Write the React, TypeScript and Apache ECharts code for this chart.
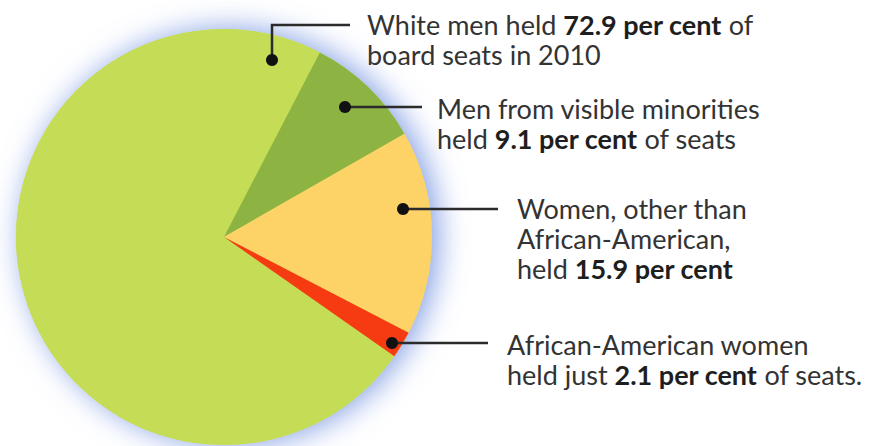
import React, { useEffect, useRef } from "react";
import * as echarts from "echarts";

const categories = [
  "White men",
  "Men from visible minorities",
  "Women, other than African-American",
  "African-American women",
];
const values = [72.9, 9.1, 15.9, 2.1];
const sliceColors = ["#c4dc56", "#8db343", "#fdd267", "#f63b12"];

const labelLines = [
  (v: number) => `White men held {b|${v} per cent} of\nboard seats in 2010`,
  (v: number) => `Men from visible minorities\nheld {b|${v} per cent} of seats`,
  (v: number) => `Women, other than\nAfrican-American,\nheld {b|${v} per cent}`,
  (v: number) => `African-American women\nheld just {b|${v} per cent} of seats.`,
];

// annotation layout: dot position, leader path, text anchor
const dotPos = [
  [272, 60],
  [345, 107],
  [403, 209],
  [392, 343],
];
const leaderPaths = [
  [[272, 60], [272, 25], [350, 25]],
  [[345, 107], [422, 107]],
  [[403, 209], [498, 209]],
  [[392, 343], [488, 343]],
];
const textPos = [
  [367, 9],
  [437, 93],
  [517, 193],
  [507, 329],
];

export default function App() {
  const ref = useRef<HTMLDivElement>(null);
  useEffect(() => {
    if (!ref.current) return;
    const chart = echarts.init(ref.current, null, { renderer: "svg" });
    const font = "Lato, 'Open Sans', sans-serif";
    const graphics: any[] = [];
    leaderPaths.forEach((p) => {
      graphics.push({
        type: "polyline",
        shape: { points: p },
        style: { stroke: "#2b2b2b", lineWidth: 2.5, fill: null },
        z: 10,
      });
    });
    dotPos.forEach((d) => {
      graphics.push({
        type: "circle",
        shape: { cx: d[0], cy: d[1], r: 6 },
        style: { fill: "#111" },
        z: 11,
      });
    });
    labelLines.forEach((fn, i) => {
      graphics.push({
        type: "text",
        x: textPos[i][0],
        y: textPos[i][1],
        style: {
          text: fn(values[i]),
          fill: "#333333",
          fontFamily: font,
          fontSize: 27,
          lineHeight: 30,
          verticalAlign: "top",
          align: "left",
          rich: {
            b: {
              fontFamily: font,
              fontSize: 27,
              fontWeight: "bold",
              fill: "#1e1e1e",
              lineHeight: 30,
            },
          },
        },
        z: 12,
      });
    });

    chart.setOption({
      animation: false,
      backgroundColor: "#ffffff",
      series: [
        {
          type: "pie",
          silent: true,
          center: [224, 237],
          radius: 208,
          data: [{ value: 1, name: "halo" }],
          label: { show: false },
          labelLine: { show: false },
          itemStyle: {
            color: sliceColors[0],
            shadowBlur: 30,
            shadowColor: "rgba(90,125,220,0.75)",
            shadowOffsetX: 6,
          },
          z: 1,
        },
        {
          type: "pie",
          center: [224, 237],
          radius: 208,
          startAngle: -35,
          clockwise: true,
          label: { show: false },
          labelLine: { show: false },
          data: categories.map((c, i) => ({
            name: c,
            value: values[i],
            itemStyle: { color: sliceColors[i] },
          })),
          itemStyle: { borderWidth: 0 },
          z: 2,
        },
      ],
      graphic: graphics,
    });
    return () => chart.dispose();
  }, []);
  return (
    <div
      ref={ref}
      style={{ position: "fixed", left: 0, top: 0, width: 871, height: 446 }}
    />
  );
}
